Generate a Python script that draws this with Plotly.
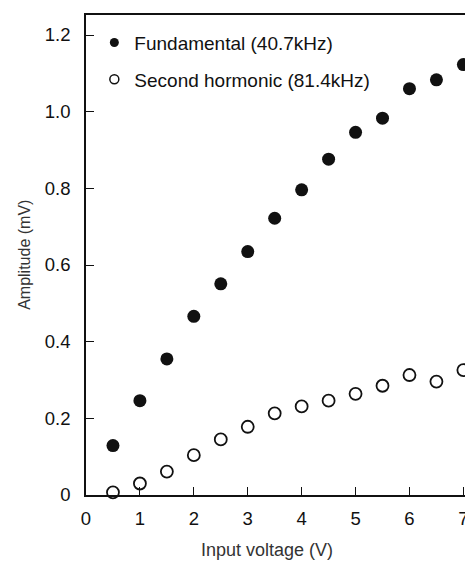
import plotly.graph_objects as go

voltage = [0.5, 1.0, 1.5, 2.0, 2.5, 3.0, 3.5, 4.0, 4.5, 5.0, 5.5, 6.0, 6.5, 7.0]
fundamental = [0.129, 0.246, 0.355, 0.466, 0.551, 0.635, 0.722, 0.796, 0.876, 0.946, 0.983, 1.060, 1.083, 1.123]
second_harmonic = [0.007, 0.030, 0.061, 0.104, 0.145, 0.178, 0.213, 0.231, 0.246, 0.264, 0.285, 0.313, 0.296, 0.326]

x_ticks = [0, 1, 2, 3, 4, 5, 6, 7]
x_ticklabels = ["0", "1", "2", "3", "4", "5", "6", "7"]
y_ticks = [0, 0.2, 0.4, 0.6, 0.8, 1.0, 1.2]
y_ticklabels = ["0", "0.2", "0.4", "0.6", "0.8", "1.0", "1.2"]

names = ["Fundamental (40.7kHz)", "Second hormonic (81.4kHz)"]
ink = "#111111"
FONT = "Liberation Sans, Arial, sans-serif"

fig = go.Figure()
fig.add_trace(go.Scatter(
    x=voltage, y=fundamental, mode="markers", showlegend=False, cliponaxis=False,
    marker=dict(symbol="circle", size=13, color=ink, line=dict(width=0)),
))
fig.add_trace(go.Scatter(
    x=voltage, y=second_harmonic, mode="markers", showlegend=False, cliponaxis=False,
    marker=dict(symbol="circle-open", size=12, color=ink, line=dict(width=1.8)),
))
# legend entries (smaller symbols than the data marks)
fig.add_trace(go.Scatter(
    x=[None], y=[None], mode="markers", name=names[0], legendgroup="a",
    marker=dict(symbol="circle", size=9, color=ink),
))
fig.add_trace(go.Scatter(
    x=[None], y=[None], mode="markers", name=names[1], legendgroup="b",
    marker=dict(symbol="circle-open", size=9, color=ink, line=dict(width=1.5)),
))

fig.update_layout(
    width=465, height=565,
    margin=dict(l=86, r=0, t=15, b=70, autoexpand=False),
    paper_bgcolor="white", plot_bgcolor="white",
    font=dict(family=FONT, color=ink, size=18),
    showlegend=True,
    legend=dict(
        x=0.022, y=0.982, xanchor="left", yanchor="top",
        bgcolor="rgba(0,0,0,0)", borderwidth=0,
        font=dict(family=FONT, size=19, color=ink),
        tracegroupgap=9, traceorder="grouped",
    ),
    xaxis=dict(
        range=[0, 7.03], tickvals=x_ticks, ticktext=x_ticklabels,
        ticks="inside", ticklen=8, tickwidth=1.4, tickcolor=ink,
        showline=True, linecolor=ink, linewidth=1.5, mirror=True,
        showgrid=False, zeroline=False, ticklabelstandoff=6, automargin=False,
        ticklabeloverflow="allow",
        tickfont=dict(family=FONT, size=18.5, color=ink),
    ),
    yaxis=dict(
        range=[0, 1.2522], tickvals=y_ticks, ticktext=y_ticklabels,
        ticks="inside", ticklen=8, tickwidth=1.4, tickcolor=ink,
        showline=True, linecolor=ink, linewidth=1.5, mirror=False,
        showgrid=False, zeroline=False, ticklabelstandoff=10, automargin=False,
        tickfont=dict(family=FONT, size=18.5, color=ink),
    ),
    annotations=[
        dict(text="Amplitude (mV)", xref="paper", yref="paper",
             x=-0.164, y=0.5, xanchor="center", yanchor="middle", textangle=-90,
             showarrow=False, font=dict(family=FONT, size=16, color="#333333")),
        dict(text="Input voltage (V)", xref="paper", yref="paper",
             x=(267 - 86) / 379, y=-0.115, xanchor="center", yanchor="middle",
             showarrow=False, font=dict(family=FONT, size=18, color="#333333")),
    ],
)

fig.write_html(
    "out.html",
    config={"displayModeBar": False},
    post_script="document.body.style.margin='0';document.body.style.overflow='hidden';",
)
